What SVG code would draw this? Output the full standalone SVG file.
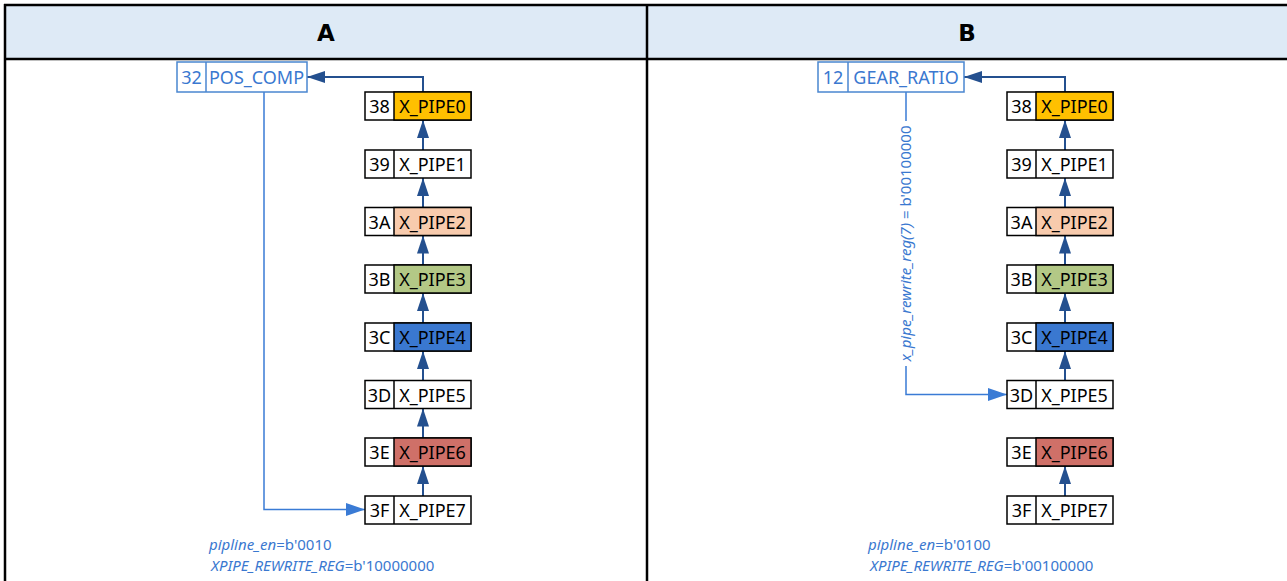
<svg xmlns="http://www.w3.org/2000/svg" width="1287" height="581" viewBox="0 0 1287 581">
<style>
.hdr{font-family:"DejaVu Sans","Liberation Sans",sans-serif;font-weight:bold;font-size:23px;fill:#000;text-anchor:middle}
.box{stroke:#000;stroke-width:1.5;fill:#fff}
.reg{stroke:#4a86d0;stroke-width:1.5;fill:#fff}
.t{font-family:"Noto Sans","Open Sans",sans-serif;font-size:18px;fill:#000;text-anchor:middle}
.rt{font-family:"Noto Sans","Open Sans",sans-serif;font-size:18px;fill:#3a78d0;text-anchor:middle}
.note{font-family:"Noto Sans","Open Sans",sans-serif;font-size:15px;fill:#3a78d0}
.dk{stroke:#24508f;stroke-width:2;fill:none;marker-end:url(#ad)}
.lt{stroke:#3a7bd5;stroke-width:1.5;fill:none}
.grid{stroke:#000;stroke-width:2.5;fill:none}
</style>
<defs>
<marker id="ad" markerUnits="userSpaceOnUse" markerWidth="18" markerHeight="12" refX="18" refY="6" orient="auto">
<path d="M0,0 L18,6 L0,12 z" fill="#24508f"/>
</marker>
<marker id="al" markerUnits="userSpaceOnUse" markerWidth="19" markerHeight="13" refX="19" refY="6.5" orient="auto">
<path d="M0,0 L19,6.5 L0,13 z" fill="#3a7bd5"/>
</marker>
</defs>
<rect x="0" y="0" width="1287" height="581" fill="#fff"/>
<g id="header">
<rect x="5" y="5" width="1282" height="54" fill="#deeaf6"/>
<line class="grid" x1="4" y1="5" x2="1287" y2="5"/>
<line class="grid" x1="4" y1="59" x2="1287" y2="59"/>
<line class="grid" x1="5" y1="4" x2="5" y2="581"/>
<line class="grid" x1="647" y1="4" x2="647" y2="581"/>
<text class="hdr" x="326" y="41">A</text>
<text class="hdr" x="967" y="41">B</text>
</g>
<g id="connectors">
<path class="dk" d="M423,92 V77 H307"/>
<path class="dk" d="M423,150 V120"/>
<path class="dk" d="M423,207.5 V178"/>
<path class="dk" d="M423,265 V235.5"/>
<path class="dk" d="M423,323 V293"/>
<path class="dk" d="M423,380.5 V351"/>
<path class="dk" d="M423,438 V408.5"/>
<path class="dk" d="M423,496 V466"/>
<path class="lt" d="M264,92 V509.5 H365" marker-end="url(#al)"/>
<path class="dk" d="M1065,92 V77 H964"/>
<path class="dk" d="M1065,150 V120"/>
<path class="dk" d="M1065,207.5 V178"/>
<path class="dk" d="M1065,265 V235.5"/>
<path class="dk" d="M1065,323 V293"/>
<path class="dk" d="M1065,380.5 V351"/>
<path class="dk" d="M1065,496 V466"/>
<path class="lt" d="M906,92 V121"/>
<path class="lt" d="M906,366 V394.5 H1007" marker-end="url(#al)"/>
<text class="note" transform="translate(911,243.5) rotate(-90)" text-anchor="middle"><tspan font-style="italic">x_pipe_rewrite_reg(7)</tspan> = b'00100000</text>
</g>
<g id="A_POS_COMP">
<rect class="reg" x="177" y="62" width="130" height="30"/>
<line class="reg" x1="206" y1="62" x2="206" y2="92"/>
<text class="rt" x="191.5" y="84">32</text>
<text class="rt" x="256.5" y="84">POS_COMP</text>
</g>
<g id="A_38"><rect class="box" x="365" y="92" width="106" height="28"/><rect x="394" y="92" width="77" height="28" fill="#ffc000" stroke="#000" stroke-width="1.5"/><text class="t" x="379.5" y="113">38</text><text class="t" x="432.5" y="113">X_PIPE0</text></g>
<g id="A_39"><rect class="box" x="365" y="150" width="106" height="28"/><line class="box" x1="394" y1="150" x2="394" y2="178"/><text class="t" x="379.5" y="171">39</text><text class="t" x="432.5" y="171">X_PIPE1</text></g>
<g id="A_3A"><rect class="box" x="365" y="207.5" width="106" height="28"/><rect x="394" y="207.5" width="77" height="28" fill="#f8cbad" stroke="#000" stroke-width="1.5"/><text class="t" x="379.5" y="228.5">3A</text><text class="t" x="432.5" y="228.5">X_PIPE2</text></g>
<g id="A_3B"><rect class="box" x="365" y="265" width="106" height="28"/><rect x="394" y="265" width="77" height="28" fill="#b3c886" stroke="#000" stroke-width="1.5"/><text class="t" x="379.5" y="286">3B</text><text class="t" x="432.5" y="286">X_PIPE3</text></g>
<g id="A_3C"><rect class="box" x="365" y="323" width="106" height="28"/><rect x="394" y="323" width="77" height="28" fill="#3a78d0" stroke="#000" stroke-width="1.5"/><text class="t" x="379.5" y="344">3C</text><text class="t" x="432.5" y="344">X_PIPE4</text></g>
<g id="A_3D"><rect class="box" x="365" y="380.5" width="106" height="28"/><line class="box" x1="394" y1="380.5" x2="394" y2="408.5"/><text class="t" x="379.5" y="401.5">3D</text><text class="t" x="432.5" y="401.5">X_PIPE5</text></g>
<g id="A_3E"><rect class="box" x="365" y="438" width="106" height="28"/><rect x="394" y="438" width="77" height="28" fill="#cf7068" stroke="#000" stroke-width="1.5"/><text class="t" x="379.5" y="459">3E</text><text class="t" x="432.5" y="459">X_PIPE6</text></g>
<g id="A_3F"><rect class="box" x="365" y="496" width="106" height="28"/><line class="box" x1="394" y1="496" x2="394" y2="524"/><text class="t" x="379.5" y="517">3F</text><text class="t" x="432.5" y="517">X_PIPE7</text></g>
<g id="A_notes">
<text class="note" x="209" y="550"><tspan font-style="italic">pipline_en</tspan>=b'0010</text>
<text class="note" x="211" y="571"><tspan font-style="italic">XPIPE_REWRITE_REG</tspan>=b'10000000</text>
</g>
<g id="B_GEAR_RATIO">
<rect class="reg" x="818" y="62" width="146" height="30"/>
<line class="reg" x1="848" y1="62" x2="848" y2="92"/>
<text class="rt" x="833" y="84">12</text>
<text class="rt" x="906" y="84">GEAR_RATIO</text>
</g>
<g id="B_38"><rect class="box" x="1007" y="92" width="106" height="28"/><rect x="1036" y="92" width="77" height="28" fill="#ffc000" stroke="#000" stroke-width="1.5"/><text class="t" x="1021.5" y="113">38</text><text class="t" x="1074.5" y="113">X_PIPE0</text></g>
<g id="B_39"><rect class="box" x="1007" y="150" width="106" height="28"/><line class="box" x1="1036" y1="150" x2="1036" y2="178"/><text class="t" x="1021.5" y="171">39</text><text class="t" x="1074.5" y="171">X_PIPE1</text></g>
<g id="B_3A"><rect class="box" x="1007" y="207.5" width="106" height="28"/><rect x="1036" y="207.5" width="77" height="28" fill="#f8cbad" stroke="#000" stroke-width="1.5"/><text class="t" x="1021.5" y="228.5">3A</text><text class="t" x="1074.5" y="228.5">X_PIPE2</text></g>
<g id="B_3B"><rect class="box" x="1007" y="265" width="106" height="28"/><rect x="1036" y="265" width="77" height="28" fill="#b3c886" stroke="#000" stroke-width="1.5"/><text class="t" x="1021.5" y="286">3B</text><text class="t" x="1074.5" y="286">X_PIPE3</text></g>
<g id="B_3C"><rect class="box" x="1007" y="323" width="106" height="28"/><rect x="1036" y="323" width="77" height="28" fill="#3a78d0" stroke="#000" stroke-width="1.5"/><text class="t" x="1021.5" y="344">3C</text><text class="t" x="1074.5" y="344">X_PIPE4</text></g>
<g id="B_3D"><rect class="box" x="1007" y="380.5" width="106" height="28"/><line class="box" x1="1036" y1="380.5" x2="1036" y2="408.5"/><text class="t" x="1021.5" y="401.5">3D</text><text class="t" x="1074.5" y="401.5">X_PIPE5</text></g>
<g id="B_3E"><rect class="box" x="1007" y="438" width="106" height="28"/><rect x="1036" y="438" width="77" height="28" fill="#cf7068" stroke="#000" stroke-width="1.5"/><text class="t" x="1021.5" y="459">3E</text><text class="t" x="1074.5" y="459">X_PIPE6</text></g>
<g id="B_3F"><rect class="box" x="1007" y="496" width="106" height="28"/><line class="box" x1="1036" y1="496" x2="1036" y2="524"/><text class="t" x="1021.5" y="517">3F</text><text class="t" x="1074.5" y="517">X_PIPE7</text></g>
<g id="B_notes">
<text class="note" x="868" y="550"><tspan font-style="italic">pipline_en</tspan>=b'0100</text>
<text class="note" x="870" y="571"><tspan font-style="italic">XPIPE_REWRITE_REG</tspan>=b'00100000</text>
</g>
</svg>
